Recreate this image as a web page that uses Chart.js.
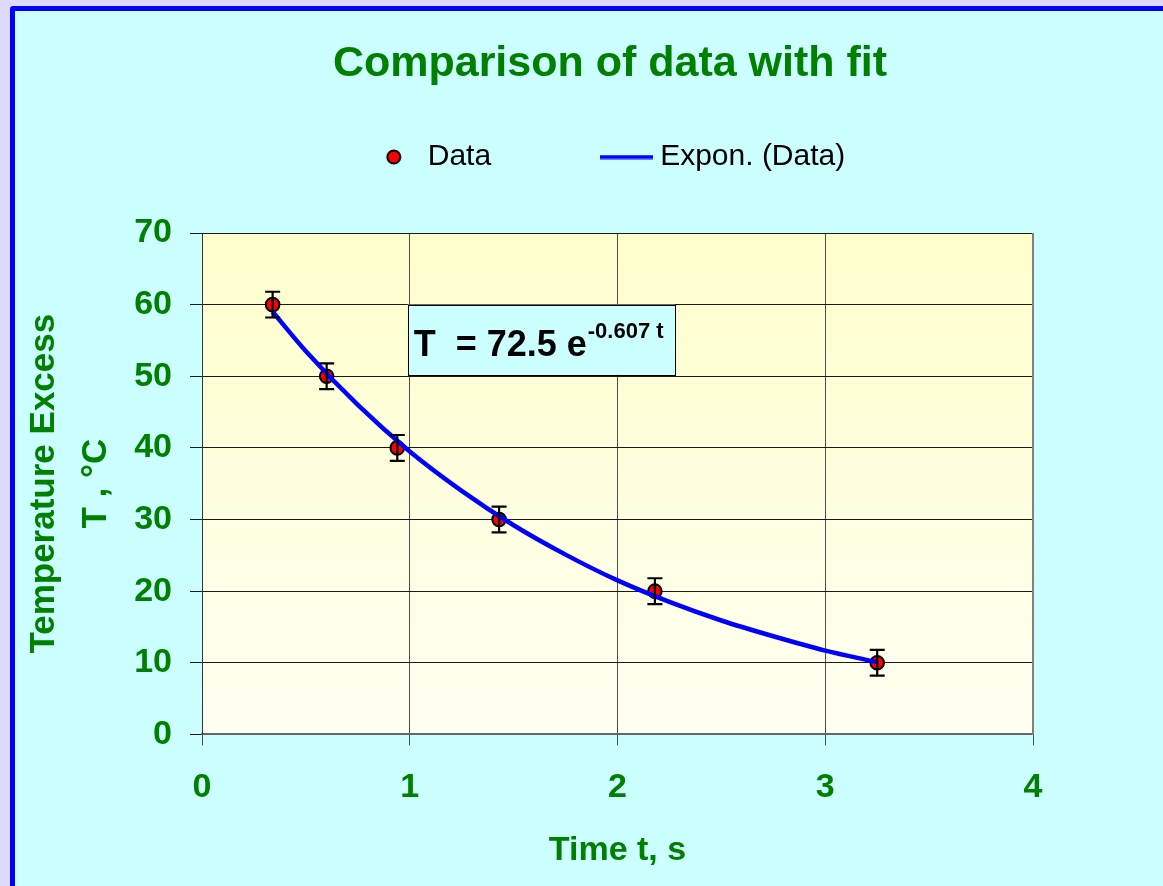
<!DOCTYPE html>
<html>
<head>
<meta charset="utf-8">
<title>Comparison of data with fit</title>
<script src="https://cdn.jsdelivr.net/npm/chart.js@4.4.1/dist/chart.umd.min.js"></script>
<style>
    body { margin: 0; background: #DDD9FF; overflow: hidden; }
    #panel {
        position: absolute; left: 10px; top: 6px;
        width: 1190px; height: 900px;
        border: 5px solid #0000FF; border-top-left-radius: 3px;
        background: #CCFFFF;
    }
    #fit_chart { display: block; }
</style>
</head>
<body>
<div id="panel">
    <canvas id="fit_chart" width="1190" height="875"></canvas>
</div>
<script>
// measured data (time in s, temperature excess in °C)
const timeValues = [0.34, 0.60, 0.94, 1.43, 2.18, 3.25];
const tempValues = [60, 50, 40, 30, 20, 10];
const tempErrors = [1.8, 1.8, 1.8, 1.8, 1.8, 1.8];

// trendline "Expon. (Data)"
const fitTime = [0.34, 0.50, 0.75, 1.00, 1.25, 1.50, 1.75, 2.00, 2.25, 2.50, 2.75, 3.00, 3.25];
const fitTemp = [59.0, 53.5, 46.0, 39.5, 34.0, 29.2, 25.1, 21.5, 18.5, 15.9, 13.7, 11.7, 10.1];

const xTicks = [0, 1, 2, 3, 4];
const yTicks = [0, 10, 20, 30, 40, 50, 60, 70];

const GREEN = '#008000';
const FONT = "'Liberation Sans', Arial, sans-serif";

// legend markers
const dotIcon = document.createElement('canvas');
dotIcon.width = 18; dotIcon.height = 18;
let g = dotIcon.getContext('2d');
g.beginPath(); g.arc(9, 9, 6.5, 0, Math.PI * 2);
g.fillStyle = '#FF0000'; g.fill();
g.lineWidth = 2; g.strokeStyle = '#000'; g.stroke();

const lineIcon = document.createElement('canvas');
lineIcon.width = 53; lineIcon.height = 5;
g = lineIcon.getContext('2d');
g.fillStyle = '#0000FF'; g.fillRect(0, 0.5, 53, 4);

// pale yellow plot area
const plotBackground = {
    id: 'plotBackground',
    beforeDraw(chart) {
        const { ctx, chartArea: a } = chart;
        const grad = ctx.createLinearGradient(0, a.top, 0, a.bottom);
        grad.addColorStop(0, '#FFFFCC');
        grad.addColorStop(1, '#FFFFF2');
        ctx.save();
        ctx.fillStyle = grad;
        ctx.fillRect(a.left, a.top, a.right - a.left, a.bottom - a.top);
        ctx.restore();
    },
    beforeDatasetsDraw(chart) {
        const { ctx, chartArea: a } = chart;
        ctx.save();
        ctx.strokeStyle = '#808080';
        ctx.lineWidth = 2;
        ctx.beginPath();
        ctx.moveTo(a.right, a.top); ctx.lineTo(a.right, a.bottom);
        ctx.stroke();
        ctx.restore();
    }
};

// vertical error bars on the data points
const errorBars = {
    id: 'errorBars',
    afterDatasetsDraw(chart) {
        const { ctx, scales: { x, y } } = chart;
        ctx.save();
        ctx.strokeStyle = '#000';
        ctx.lineWidth = 2.2;
        timeValues.forEach((t, i) => {
            const px = x.getPixelForValue(t);
            const hi = y.getPixelForValue(tempValues[i] + tempErrors[i]);
            const lo = y.getPixelForValue(tempValues[i] - tempErrors[i]);
            ctx.beginPath();
            ctx.moveTo(px, hi); ctx.lineTo(px, lo);
            ctx.moveTo(px - 7.5, hi); ctx.lineTo(px + 7.5, hi);
            ctx.moveTo(px - 7.5, lo); ctx.lineTo(px + 7.5, lo);
            ctx.stroke();
        });
        ctx.restore();
    }
};

// equation label of the trendline
const equationLabel = {
    id: 'equationLabel',
    afterDraw(chart) {
        const { ctx, scales: { x, y } } = chart;
        const left = x.getPixelForValue(0.99);
        const right = x.getPixelForValue(2.277);
        const top = y.getPixelForValue(60);
        const bottom = y.getPixelForValue(50.2);
        ctx.save();
        ctx.fillStyle = '#CCFFFF';
        ctx.fillRect(left, top, right - left, bottom - top);
        ctx.strokeStyle = '#000';
        ctx.lineWidth = 1;
        ctx.strokeRect(Math.round(left) + 0.5, Math.round(top) + 0.5, Math.round(right - left), Math.round(bottom - top));
        ctx.fillStyle = '#000';
        ctx.textBaseline = 'alphabetic';
        ctx.font = 'bold 36px ' + FONT;
        const main = 'T  = 72.5 e';
        ctx.fillText(main, left + 6, top + 51);
        const w = ctx.measureText(main).width;
        ctx.font = 'bold 22px ' + FONT;
        ctx.fillText('-0.607 t', left + 6 + w + 1, top + 33);
        ctx.restore();
    }
};

const ctx = document.getElementById('fit_chart');

let chart = new Chart(ctx, {
    type: 'scatter',
    data: {
        datasets: [{
            label: 'Expon. (Data)',
            type: 'line',
            data: fitTime.map((t, i) => ({ x: t, y: fitTemp[i] })),
            borderColor: '#0000FF',
            borderWidth: 4.5,
            pointRadius: 0,
            fill: false,
            cubicInterpolationMode: 'monotone',
            order: 0
        }, {
            label: 'Data',
            data: timeValues.map((t, i) => ({ x: t, y: tempValues[i] })),
            showLine: false,
            pointRadius: 6.8,
            backgroundColor: '#FF0000',
            borderColor: '#000000',
            borderWidth: 2,
            order: 1
        }]
    },
    options: {
        responsive: false,
        animation: false,
        events: [],
        layout: { padding: { left: 0, right: 0, top: 0, bottom: 15 } },
        plugins: {
            title: {
                display: true,
                text: 'Comparison of data with fit',
                color: GREEN,
                font: { family: FONT, size: 43, weight: 'bold', lineHeight: 1.2 },
                padding: { top: 27, bottom: -63.6 }
            },
            legend: {
                position: 'top',
                labels: {
                    color: '#000',
                    font: { family: FONT, size: 30 },
                    usePointStyle: true,
                    pointStyleWidth: 38,
                    padding: 116,
                    generateLabels: () => [
                        { text: 'Data', pointStyle: dotIcon, fillStyle: '#FF0000', strokeStyle: '#000', lineWidth: 0, hidden: false, datasetIndex: 1 },
                        { text: 'Expon. (Data)', pointStyle: lineIcon, fillStyle: '#0000FF', strokeStyle: '#0000FF', lineWidth: 0, hidden: false, datasetIndex: 0 }
                    ]
                }
            },
            tooltip: { enabled: false }
        },
        scales: {
            x: {
                type: 'linear',
                min: 0,
                max: 4,
                afterBuildTicks: (s) => { s.ticks = xTicks.map(v => ({ value: v })); },
                ticks: {
                    color: GREEN,
                    font: { family: FONT, size: 34, weight: 'bold', lineHeight: 1.2 },
                    padding: 22
                },
                grid: { color: '#4d4d4d', lineWidth: 1, tickLength: 11 },
                border: { color: '#666666', width: 2 },
                title: {
                    display: true,
                    text: 'Time t, s',
                    color: GREEN,
                    font: { family: FONT, size: 34, weight: 'bold', lineHeight: 1.2 },
                    padding: { top: 0, bottom: 0 }
                }
            },
            y: {
                type: 'linear',
                min: 0,
                max: 70,
                afterBuildTicks: (s) => { s.ticks = yTicks.map(v => ({ value: v })); },
                afterFit: (s) => { s.width = 187; },
                ticks: {
                    color: GREEN,
                    font: { family: FONT, size: 34, weight: 'bold', lineHeight: 1.2 },
                    padding: 18
                },
                grid: { color: '#1a1a1a', lineWidth: 1, tickLength: 12 },
                border: { color: '#333333', width: 1 },
                title: {
                    display: true,
                    text: ['Temperature Excess', 'T , °C'],
                    color: GREEN,
                    font: { family: FONT, size: 35, weight: 'bold', lineHeight: 1.5 },
                    padding: { top: 3, bottom: 0 }
                }
            },
            // empty right-hand axis, only keeps the plot off the right side
            spacer: {
                type: 'linear',
                position: 'right',
                min: 0,
                max: 1,
                afterFit: (s) => { s.width = 172; },
                ticks: { display: false },
                grid: { display: false },
                border: { display: false }
            }
        }
    },
    plugins: [plotBackground, errorBars, equationLabel]
});

// legend is taller than its text, the plot starts lower
chart.legend.fit = (function (fit) {
    return function () {
        fit.call(this);
        this.height = 207;
    };
})(chart.legend.fit);
chart.update();
</script>
</body>
</html>
